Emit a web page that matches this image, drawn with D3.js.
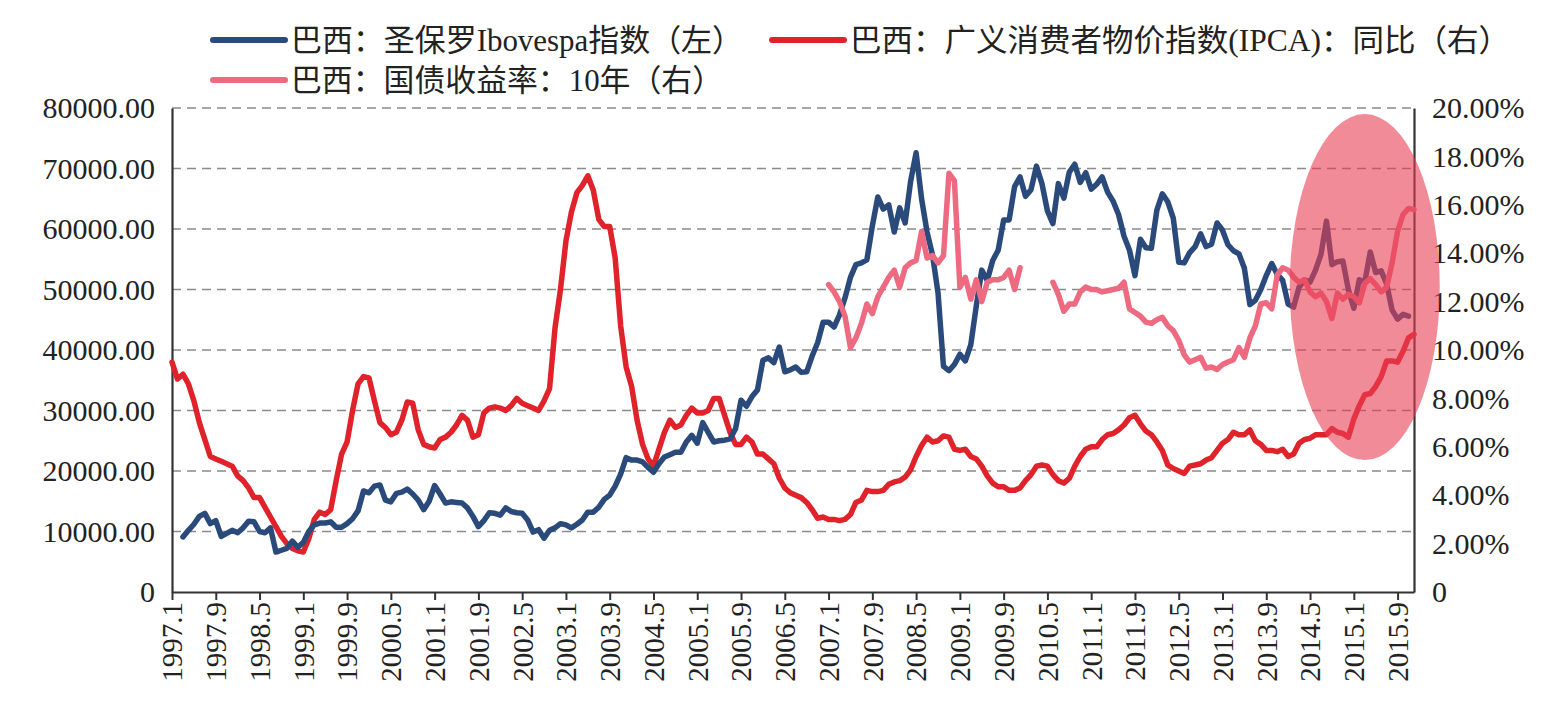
<!DOCTYPE html>
<html>
<head>
<meta charset="utf-8">
<script src="https://cdn.jsdelivr.net/npm/d3@7"></script>
<style>
  html, body { margin: 0; padding: 0; background: #fff; }
  svg text { font-family: "Liberation Serif", "Noto Sans CJK SC", serif; fill: #222; }
</style>
</head>
<body>
<svg id="chart" width="1552" height="713"></svg>
<script>
// months run from 1997.1 to 2015.12
const startYear = 1997;
const monthCount = 228;

const tickLabels = ["1997.1","1997.9","1998.5","1999.1","1999.9","2000.5","2001.1","2001.9","2002.5",
  "2003.1","2003.9","2004.5","2005.1","2005.9","2006.5","2007.1","2007.9","2008.5","2009.1","2009.9",
  "2010.5","2011.1","2011.9","2012.5","2013.1","2013.9","2014.5","2015.1","2015.9"];

// Ibovespa index (left axis), from 1997.1
const ibovespa = [
  null, null, 9100, 10200, 11200, 12500, 13000, 11300, 11800, 9200, 9700, 10200,
  9800, 10600, 11700, 11600, 10000, 9800, 10600, 6600, 6900, 7200, 8400, 7400,
  8200, 10000, 11100, 11400, 11400, 11600, 10700, 10700, 11300, 12100, 13400, 16700,
  16400, 17500, 17700, 15200, 14900, 16300, 16500, 17000, 16200, 15200, 13600, 15000,
  17600, 16200, 14700, 14900, 14800, 14700, 13900, 12500, 10800, 11800, 13100, 13000,
  12700, 13900, 13300, 13100, 13000, 11900, 9900, 10300, 8900, 10200, 10600, 11300,
  11100, 10600, 11200, 11900, 13200, 13200, 14000, 15300, 16000, 17500, 19500, 22200,
  21800, 21800, 21500, 20600, 19800, 21200, 22300, 22700, 23100, 23100, 24800, 25900,
  24600, 28000, 26400, 24800, 25000, 25100, 25300, 27000, 31700, 30700, 32300, 33400,
  38300, 38700, 37900, 40500, 36400, 36700, 37200, 36300, 36400, 39000, 41200, 44600,
  44600, 43800, 45800, 48600, 52000, 54100, 54400, 54900, 60500, 65300, 63300, 64000,
  59500, 63500, 61000, 67900, 72600, 65000, 59500, 55700, 49500, 37300, 36600, 37600,
  39300, 38200, 40900, 47300, 53200, 51500, 54800, 56500, 61500, 61500, 67000, 68600,
  65400, 66500, 70400, 67500, 63000, 60900, 67500, 65100, 69400, 70700, 67700, 69300,
  66600, 67400, 68600, 66100, 64600, 62400, 58800, 56500, 52300, 58300, 56900, 56800,
  63100, 65800, 64500, 61800, 54500, 54400, 56100, 57100, 59200, 57100, 57500, 61000,
  59800, 57400, 56400, 55900, 53500, 47500, 48200, 50000, 52300, 54300, 52500, 51500,
  47600, 47100, 50400, 51600, 51200, 53200, 55800, 61300, 54100, 54600, 54700, 50000,
  46900, 51600, 51200, 56200, 52800, 53100, 50900, 46600, 45100, 45900, 45600, null
];

// IPCA y/y, % (right axis), from 1997.1
const ipca = [
  9.5, 8.8, 9.0, 8.6, 7.9, 7.0, 6.3, 5.6, 5.5, 5.4, 5.3, 5.2,
  4.8, 4.6, 4.3, 3.9, 3.9, 3.5, 3.1, 2.7, 2.3, 2.0, 1.8, 1.7,
  1.65, 2.2, 3.0, 3.3, 3.2, 3.4, 4.6, 5.7, 6.2, 7.5, 8.6, 8.9,
  8.85, 7.9, 7.0, 6.8, 6.5, 6.6, 7.1, 7.85, 7.8, 6.7, 6.1, 6.0,
  5.95, 6.3, 6.4, 6.6, 6.9, 7.3, 7.1, 6.4, 6.5, 7.4, 7.6, 7.65,
  7.6, 7.5, 7.7, 8.0, 7.8, 7.7, 7.6, 7.5, 7.9, 8.4, 10.9, 12.5,
  14.5, 15.7, 16.5, 16.8, 17.2, 16.6, 15.4, 15.1, 15.1, 13.8, 11.0, 9.3,
  8.5, 7.1, 6.1, 5.5, 5.2, 5.9, 6.6, 7.1, 6.8, 6.9, 7.3, 7.6,
  7.4, 7.4, 7.5, 8.0, 8.0, 7.3, 6.6, 6.1, 6.1, 6.4, 6.2, 5.7,
  5.7, 5.5, 5.3, 4.7, 4.3, 4.1, 4.0, 3.9, 3.7, 3.4, 3.05, 3.1,
  3.0, 3.0, 2.95, 3.0, 3.2, 3.7, 3.8, 4.2, 4.15, 4.15, 4.2, 4.45,
  4.55, 4.6, 4.75, 5.05, 5.6, 6.05, 6.4, 6.2, 6.25, 6.45, 6.4, 5.9,
  5.85, 5.9, 5.6, 5.5, 5.2, 4.8, 4.5, 4.35, 4.35, 4.2, 4.2, 4.3,
  4.6, 4.85, 5.2, 5.25, 5.2, 4.85, 4.6, 4.5, 4.7, 5.2, 5.6, 5.9,
  6.0, 6.0, 6.3, 6.5, 6.55, 6.7, 6.9, 7.2, 7.3, 6.95, 6.65, 6.5,
  6.2, 5.85, 5.25, 5.1, 5.0, 4.9, 5.2, 5.25, 5.3, 5.45, 5.55, 5.85,
  6.15, 6.3, 6.6, 6.5, 6.5, 6.7, 6.25, 6.1, 5.85, 5.85, 5.8, 5.9,
  5.6, 5.7, 6.15, 6.3, 6.35, 6.5, 6.5, 6.5, 6.75, 6.6, 6.55, 6.4,
  7.15, 7.7, 8.15, 8.2, 8.5, 8.9, 9.55, 9.55, 9.5, 9.95, 10.5, 10.65
];

// 10y government bond yield, % (right axis), from 2007.1
const bondStart = 120;
const bond10y = [
  12.7, 12.4, 12.0, 11.4, 10.1, 10.5, 11.1, 11.9, 11.5, 12.2, 12.6, 13.0,
  13.3, 12.6, 13.4, 13.6, 13.7, 14.9, 13.8, 13.9, 13.6, 13.9, 17.3, 17.0,
  12.6, 13.0, 12.1, 12.9, 12.0, 12.8, 12.9, 12.9, 13.0, 13.3, 12.5, 13.4,
  null, null, null, null, null, 12.8, 12.3, 11.6, 11.9, 11.9, 12.4, 12.6,
  12.5, 12.5, 12.4, 12.45, 12.5, 12.55, 12.8, 11.7, 11.55, 11.4, 11.15, 11.1,
  11.25, 11.35, 11.0, 10.8, 10.4, 9.8, 9.5, 9.6, 9.7, 9.25, 9.3, 9.2,
  9.4, 9.5, 9.6, 10.1, 9.7, 10.5, 11.0, 11.9, 11.95, 11.7, 13.1, 13.4,
  13.3, 13.0, 12.8, 12.9, 12.4, 12.2, 12.35, 12.0, 11.3, 12.35, 12.1, 12.3,
  12.2, 11.95, 12.75, 12.95, 12.7, 12.4, 12.6, 13.6, 14.9, 15.6, 15.85, 15.8
];

const leftTicks = [0, 10000, 20000, 30000, 40000, 50000, 60000, 70000, 80000];
const rightTicks = [0, 2, 4, 6, 8, 10, 12, 14, 16, 18, 20];

const legendItems = [
  {name: "巴西：圣保罗Ibovespa指数（左）", color: "#2b4a7c", x: 213, y: 40, w: 452},
  {name: "巴西：广义消费者物价指数(IPCA)：同比（右）", color: "#e0232b", x: 772, y: 40, w: 660},
  {name: "巴西：国债收益率：10年（右）", color: "#ee6a81", x: 213, y: 80, w: 432}
];

const svg = d3.select("#chart");
const plotLeft = 172, plotRight = 1414, plotTop = 108, plotBottom = 592;

const x = d3.scaleLinear().domain([0, monthCount - 1]).range([plotLeft, plotRight]);
const yL = d3.scaleLinear().domain([0, 80000]).range([plotBottom, plotTop]);
const yR = d3.scaleLinear().domain([0, 20]).range([plotBottom, plotTop]);

// GRID
svg.append("g")
  .selectAll("line")
  .data(leftTicks.filter(d => d > 0))
  .join("line")
  .attr("x1", plotLeft).attr("x2", plotRight)
  .attr("y1", d => yL(d)).attr("y2", d => yL(d))
  .attr("stroke", "#8a8a8a")
  .attr("stroke-width", 1.6)
  .attr("stroke-dasharray", "9,6");

// AXES
const axisL = svg.append("g")
  .attr("transform", `translate(${plotLeft},0)`)
  .call(d3.axisLeft(yL).tickValues(leftTicks).tickSize(0).tickPadding(17)
    .tickFormat(d => d === 0 ? "0" : d.toFixed(2)));

const axisR = svg.append("g")
  .attr("transform", `translate(${plotRight},0)`)
  .call(d3.axisRight(yR).tickValues(rightTicks).tickSize(0).tickPadding(18)
    .tickFormat(d => d === 0 ? "0" : d.toFixed(2) + "%"));

const tickIdx = tickLabels.map((t, k) => k * 8);
const axisB = svg.append("g")
  .attr("transform", `translate(0,${plotBottom})`)
  .call(d3.axisBottom(x).tickValues(tickIdx).tickSize(8).tickSizeOuter(0)
    .tickFormat((d, k) => tickLabels[k]));

[axisL, axisR, axisB].forEach(a => {
  a.select(".domain").attr("stroke", "#333").attr("stroke-width", 2.2);
  a.selectAll(".tick line").attr("stroke", "#333").attr("stroke-width", 2);
  a.selectAll("text").attr("font-size", 30).attr("fill", "#222");
});

axisB.selectAll(".tick text")
  .attr("transform", "rotate(-90)")
  .attr("text-anchor", "end")
  .attr("x", -10)
  .attr("y", 0)
  .attr("dy", "0.34em")
  .attr("font-size", 29);

// LINES
const lineL = d3.line()
  .defined(d => d.v !== null)
  .x(d => x(d.i))
  .y(d => yL(d.v));
const lineR = d3.line()
  .defined(d => d.v !== null)
  .x(d => x(d.i))
  .y(d => yR(d.v));

const ipcaPts = ipca.map((v, i) => ({i, v}));
const ibovPts = ibovespa.map((v, i) => ({i, v}));
const bondPts = bond10y.map((v, k) => ({i: bondStart + k, v}));

const lines = svg.append("g").attr("fill", "none")
  .attr("stroke-width", 5.5).attr("stroke-linejoin", "round").attr("stroke-linecap", "round");

lines.append("path").datum(ipcaPts).attr("d", lineR).attr("stroke", "#e0232b");
lines.append("path").datum(ibovPts).attr("d", lineL).attr("stroke", "#2b4a7c");
lines.append("path").datum(bondPts).attr("d", lineR).attr("stroke", "#ee6a81");

// LEGEND
const leg = svg.append("g").selectAll("g").data(legendItems).join("g")
  .attr("transform", d => `translate(${d.x},${d.y})`);
leg.append("line")
  .attr("x1", 0).attr("x2", 72).attr("y1", 0).attr("y2", 0)
  .attr("stroke", d => d.color).attr("stroke-width", 6).attr("stroke-linecap", "round");
leg.append("text")
  .attr("x", 78).attr("y", 11)
  .attr("font-size", 31)
  .attr("textLength", d => d.w)
  .attr("lengthAdjust", "spacingAndGlyphs")
  .text(d => d.name);

// HIGHLIGHT ELLIPSE
svg.append("ellipse")
  .attr("cx", x(218)).attr("cy", yR(12.6))
  .attr("rx", 75).attr("ry", 173)
  .attr("fill", "rgb(232,62,84)")
  .attr("fill-opacity", 0.6);
</script>
</body>
</html>
